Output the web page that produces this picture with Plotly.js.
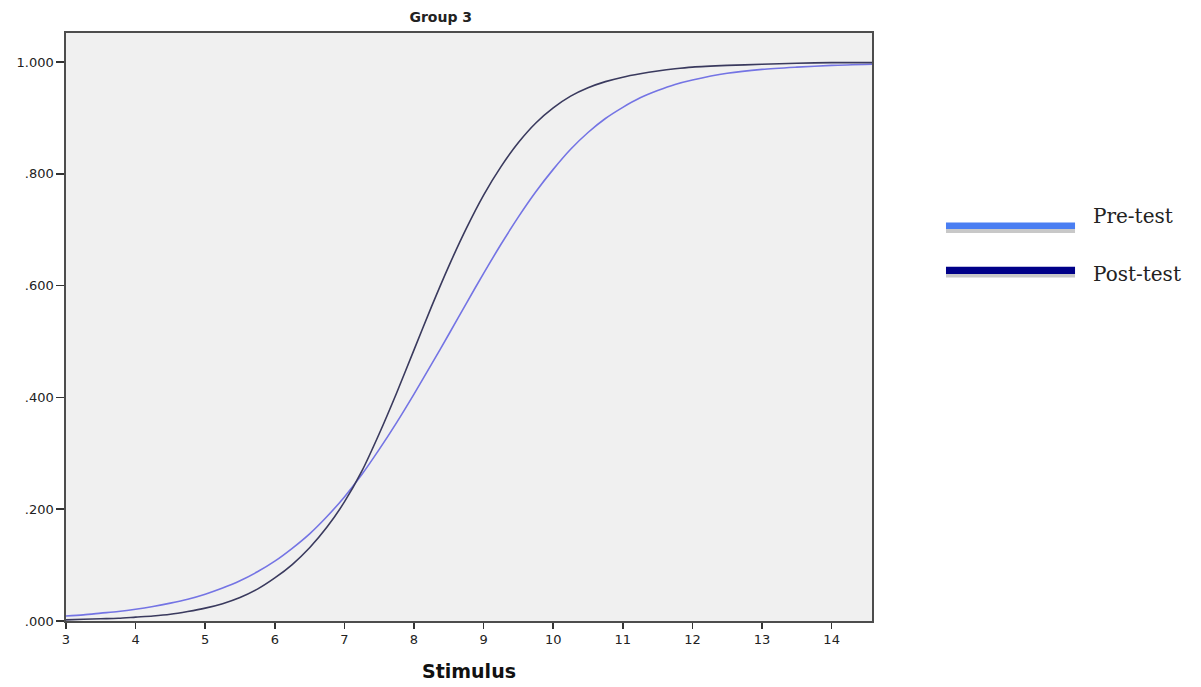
<!DOCTYPE html>
<html>
<head>
<meta charset="utf-8">
<script src="https://cdn.plot.ly/plotly-3.0.1.min.js"></script>
<style>html,body{margin:0;padding:0;background:#fff;}#chart{width:1201px;height:687px;}</style>
</head>
<body>
<div id="chart"></div>
<script>
// Stimulus values (x)
const stimulus = [3.0, 3.25, 3.5, 3.75, 4.0, 4.25, 4.5, 4.75, 5.0, 5.25, 5.5, 5.75, 6.0, 6.25, 6.5, 6.75, 7.0, 7.25, 7.5, 7.75,
  8.0, 8.25, 8.5, 8.75, 9.0, 9.25, 9.5, 9.75, 10.0, 10.25, 10.5, 10.75, 11.0, 11.25, 11.5, 11.75, 12.0, 12.5, 13.0, 13.5, 14.0, 14.58];
// Proportion values
const preTest  = [0.009, 0.011, 0.014, 0.017, 0.021, 0.026, 0.032, 0.039, 0.048, 0.059, 0.072, 0.088, 0.107, 0.130, 0.156, 0.187, 0.222, 0.262, 0.307, 0.355,
  0.406, 0.459, 0.513, 0.568, 0.622, 0.674, 0.723, 0.768, 0.808, 0.844, 0.874, 0.899, 0.919, 0.936, 0.949, 0.960, 0.968, 0.980, 0.987, 0.991, 0.994, 0.996];
const postTest = [0.002, 0.003, 0.004, 0.005, 0.007, 0.009, 0.012, 0.017, 0.023, 0.031, 0.042, 0.057, 0.077, 0.101, 0.131, 0.168, 0.213, 0.268, 0.335, 0.408,
  0.485, 0.562, 0.635, 0.702, 0.762, 0.813, 0.856, 0.891, 0.918, 0.939, 0.954, 0.965, 0.973, 0.979, 0.984, 0.988, 0.991, 0.994, 0.996, 0.998, 0.999, 0.999];
const seriesNames = ["Pre-test", "Post-test"];
const yTickVals = [0, 0.2, 0.4, 0.6, 0.8, 1.0];
const yTickText = [".000", ".200", ".400", ".600", ".800", "1.000"];
const xTickVals = [3, 4, 5, 6, 7, 8, 9, 10, 11, 12, 13, 14];
const xTickText = ["3", "4", "5", "6", "7", "8", "9", "10", "11", "12", "13", "14"];

const traces = [
  {x: stimulus, y: preTest, name: seriesNames[0], type: 'scatter', mode: 'lines',
   line: {color: '#7474e4', width: 1.6, shape: 'spline', smoothing: 0.8}, showlegend: false},
  {x: stimulus, y: postTest, name: seriesNames[1], type: 'scatter', mode: 'lines',
   line: {color: '#3a3a5e', width: 1.6, shape: 'spline', smoothing: 0.8}, showlegend: false}
];

const legColors = ['#4a7ef2', '#000088'];
const shapes = [];
const bars = [[0.6777, 0.6665, 0.6599], [0.6026, 0.5901, 0.5842]];
bars.forEach((b, i) => {
  shapes.push({type: 'rect', xref: 'paper', yref: 'paper', x0: 1.0918, x1: 1.2519, y0: b[2], y1: b[1],
    line: {width: 0}, fillcolor: '#c8c8c8'});
  shapes.push({type: 'rect', xref: 'paper', yref: 'paper', x0: 1.0918, x1: 1.2519, y0: b[1], y1: b[0],
    line: {width: 0}, fillcolor: legColors[i]});
});

const layout = {
  width: 1201, height: 687,
  margin: {l: 66, r: 329, t: 33, b: 66, pad: 0},
  paper_bgcolor: '#ffffff',
  plot_bgcolor: '#f0f0f0',
  showlegend: false,
  title: {text: '<b>Group 3</b>', xref: 'container', yref: 'container', x: 0.367, xanchor: 'center',
    y: 1 - 17/687, yanchor: 'middle', font: {family: 'DejaVu Sans', size: 14, color: '#222'}},
  xaxis: {range: [3, 14.58], tickvals: xTickVals, ticktext: xTickText, ticks: 'outside', ticklen: 6,
    tickwidth: 1.5, tickcolor: '#333', showgrid: false, zeroline: false, showline: true, mirror: true,
    linecolor: '#4d4d4d', linewidth: 1.6, tickfont: {family: 'DejaVu Sans', size: 13, color: '#222'},
    title: {text: '<b>Stimulus</b>', font: {family: 'DejaVu Sans', size: 19, color: '#111'}, standoff: 18}},
  yaxis: {range: [0, 1.052], tickvals: yTickVals, ticktext: yTickText, ticks: 'outside', ticklen: 8,
    tickwidth: 1.5, tickcolor: '#333', showgrid: false, zeroline: false, showline: true, mirror: true,
    linecolor: '#4d4d4d', linewidth: 1.6, tickfont: {family: 'DejaVu Sans', size: 13, color: '#222'}},
  shapes: shapes,
  annotations: [
    {text: seriesNames[0], xref: 'paper', yref: 'paper', x: 1.272, y: 0.6888, xanchor: 'left', yanchor: 'middle',
      showarrow: false, font: {family: 'DejaVu Serif', size: 20, color: '#222'}},
    {text: seriesNames[1], xref: 'paper', yref: 'paper', x: 1.272, y: 0.5901, xanchor: 'left', yanchor: 'middle',
      showarrow: false, font: {family: 'DejaVu Serif', size: 20, color: '#222'}}
  ]
};

Plotly.newPlot('chart', traces, layout, {displayModeBar: false, staticPlot: true});
</script>
</body>
</html>
